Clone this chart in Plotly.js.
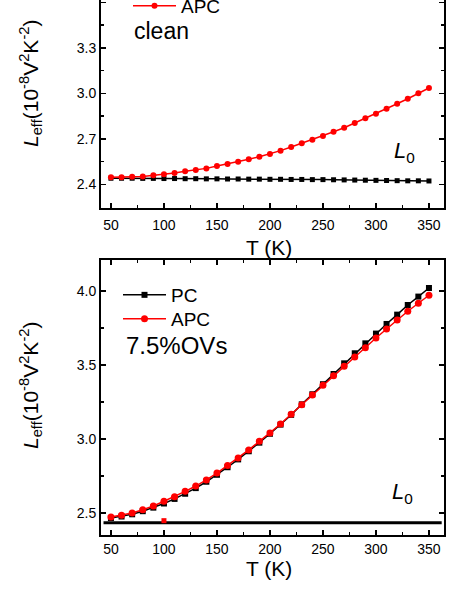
<!DOCTYPE html>
<html>
<head>
<meta charset="utf-8">
<script src="https://cdn.plot.ly/plotly-3.0.1.min.js"></script>
<style>
  html, body { margin: 0; padding: 0; background: #fff; }
  #chart { width: 463px; height: 599px; }
</style>
</head>
<body>
<div id="chart"></div>
<script>
// temperatures (K)
var temps = [50, 60, 70, 80, 90, 100, 110, 120, 130, 140, 150, 160, 170, 180, 190, 200,
             210, 220, 230, 240, 250, 260, 270, 280, 290, 300, 310, 320, 330, 340, 350];

// clean sample
var cleanPC  = [2.440, 2.440, 2.440, 2.439, 2.439, 2.438, 2.438, 2.437, 2.437, 2.436, 2.436,
                2.435, 2.435, 2.434, 2.434, 2.433, 2.433, 2.432, 2.432, 2.431, 2.431, 2.430,
                2.429, 2.428, 2.427, 2.426, 2.425, 2.424, 2.423, 2.423, 2.422];
var cleanAPC = [2.446, 2.446, 2.450, 2.452, 2.459, 2.466, 2.474, 2.486, 2.494, 2.505, 2.521,
                2.534, 2.549, 2.565, 2.582, 2.600, 2.622, 2.646, 2.670, 2.694, 2.718, 2.747,
                2.773, 2.804, 2.835, 2.865, 2.898, 2.931, 2.964, 3.000, 3.035];

// 7.5% oxygen vacancies
var ovPC  = [2.466, 2.476, 2.491, 2.512, 2.536, 2.564, 2.595, 2.630, 2.668, 2.711, 2.758,
             2.809, 2.862, 2.917, 2.975, 3.035, 3.097, 3.163, 3.234, 3.302, 3.370, 3.439,
             3.511, 3.579, 3.646, 3.712, 3.777, 3.840, 3.905, 3.962, 4.020];
var ovAPC = [2.473, 2.484, 2.500, 2.522, 2.547, 2.579, 2.610, 2.646, 2.682, 2.723, 2.770,
             2.820, 2.872, 2.926, 2.984, 3.041, 3.101, 3.167, 3.232, 3.297, 3.363, 3.428,
             3.491, 3.554, 3.617, 3.682, 3.743, 3.804, 3.863, 3.917, 3.971];

// Lorenz number reference line (bottom panel) and a stray red point
var l0T = [43, 362];
var l0Val = [2.434, 2.434];
var strayT = [100];
var strayVal = [2.448];

var FONT = 'Liberation Sans, Arial, sans-serif';
var RED = '#ff0000';

var data = [
  {x: temps, y: cleanPC, xaxis: 'x', yaxis: 'y', mode: 'lines+markers', name: 'PC',
   showlegend: false, line: {color: '#000', width: 1.5},
   marker: {symbol: 'square', size: 5, color: '#000'}},
  {x: temps, y: cleanAPC, xaxis: 'x', yaxis: 'y', mode: 'lines+markers', name: 'APC',
   legend: 'legend2', line: {color: RED, width: 1.5},
   marker: {symbol: 'circle', size: 6, color: RED}},
  {x: l0T, y: l0Val, xaxis: 'x2', yaxis: 'y2', mode: 'lines', showlegend: false,
   line: {color: '#000', width: 3}},
  {x: strayT, y: strayVal, xaxis: 'x2', yaxis: 'y2', mode: 'markers', showlegend: false,
   marker: {symbol: 'square', size: 5, color: RED}},
  {x: temps, y: ovPC, xaxis: 'x2', yaxis: 'y2', mode: 'lines+markers', name: 'PC',
   legend: 'legend', line: {color: '#000', width: 1.5},
   marker: {symbol: 'square', size: 6, color: '#000'}},
  {x: temps, y: ovAPC, xaxis: 'x2', yaxis: 'y2', mode: 'lines+markers', name: 'APC',
   legend: 'legend3', line: {color: RED, width: 1.5},
   marker: {symbol: 'circle', size: 7, color: RED}}
];

var xDom = [0.2181, 0.959];
var tickFont = {family: FONT, size: 14, color: '#000'};

function xAxis(anchor, mirror, standoff) {
  return {
    domain: xDom, anchor: anchor, range: [40.6, 364.2],
    showgrid: false, zeroline: false,
    showline: true, linewidth: 2, linecolor: '#000', mirror: mirror,
    ticks: 'inside', ticklen: 5, tickwidth: 1.5, tickcolor: '#000',
    tick0: 50, dtick: 50, tickfont: tickFont, ticklabelstandoff: standoff,
    minor: {ticks: 'inside', ticklen: 3, tickwidth: 1.5, tickcolor: '#000', tick0: 25, dtick: 25}
  };
}
function yAxis(anchor, dom, rng, t0, dt) {
  return {
    domain: dom, anchor: anchor, range: rng,
    showgrid: false, zeroline: false,
    showline: true, linewidth: 2, linecolor: '#000', mirror: 'ticks',
    ticks: 'inside', ticklen: 5, tickwidth: 1.5, tickcolor: '#000',
    tick0: t0, dtick: dt, tickformat: '.1f', tickfont: tickFont,
    minor: {ticks: 'inside', ticklen: 3, tickwidth: 1.5, tickcolor: '#000', tick0: t0, dtick: dt / 2}
  };
}

var yTitle = '<i>L</i><sub>eff</sub>(10<sup>-8</sup>V<sup>2</sup>K<sup>-2</sup>)';
var H = 599, W = 463;
function px(v) { return v / W; }
function py(v) { return 1 - v / H; }

function note(text, x, y, size, xanchor, angle) {
  return {text: text, x: px(x), y: py(y), xref: 'paper', yref: 'paper',
          xanchor: xanchor || 'center', yanchor: 'middle', textangle: angle || 0,
          showarrow: false, font: {family: FONT, size: size, color: '#000'}};
}

var annotations = [
  note(yTitle, 30, 84, 21, 'center', -90),
  note(yTitle, 30, 386, 21, 'center', -90),
  note('T (K)', 269, 247, 21),
  note('T (K)', 269, 568, 21),
  note('clean', 132, 31, 23, 'left'),
  note('7.5%OVs', 124, 345, 24, 'left'),
  note('<i>L</i><sub>0</sub>', 392, 152, 22, 'left'),
  note('<i>L</i><sub>0</sub>', 390, 493, 22, 'left')
];

var legendBase = {
  font: {family: FONT, size: 19, color: '#000'},
  bgcolor: 'rgba(0,0,0,0)', borderwidth: 0,
  itemwidth: 43, itemsizing: 'trace',
  xanchor: 'left', yanchor: 'top', tracegroupgap: 0
};

var layout = {
  width: W, height: H,
  margin: {l: 0, r: 0, t: 0, b: 0, pad: 0, autoexpand: false},
  paper_bgcolor: '#fff', plot_bgcolor: '#fff',
  font: {family: FONT, color: '#000'},
  showlegend: true,
  legend: Object.assign({}, legendBase, {x: px(118), y: py(276)}),
  legend3: Object.assign({}, legendBase, {x: px(118), y: py(300)}),
  legend2: Object.assign({}, legendBase, {x: px(128), y: py(-13)}),
  xaxis: xAxis('y', false, 3),
  yaxis: yAxis('x', [0.6528, 1], [2.244, 3.615], 2.4, 0.3),
  xaxis2: xAxis('y2', 'ticks', 0),
  yaxis2: yAxis('x2', [0.1068, 0.5659], [2.351, 4.209], 2.5, 0.5),
  annotations: annotations
};

Plotly.newPlot('chart', data, layout, {staticPlot: true});
</script>
</body>
</html>
